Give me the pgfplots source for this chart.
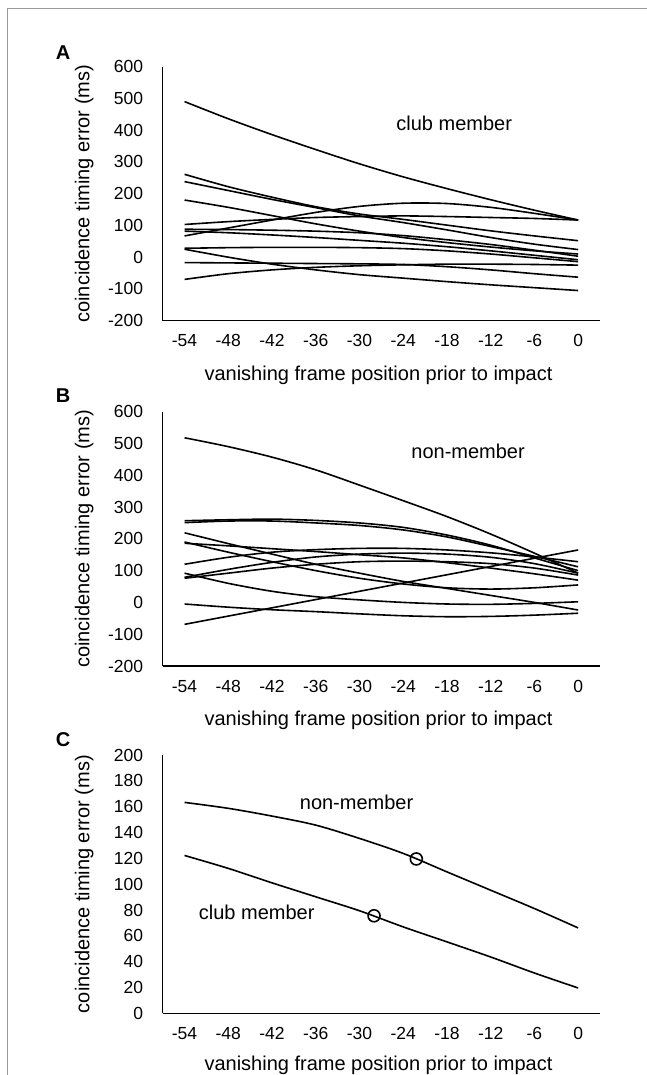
\documentclass[border=0pt]{standalone}
\usepackage{pgfplots}
\usepackage{pgfplotstable}
\pgfplotsset{compat=1.18}
\usepackage{fontspec}
\setmainfont{Liberation Sans}

\pgfplotstableread{
x a b c d e f g gg h i j k
-54 490 67 103 261 238 180 88 82 28 25 -17 -70
-48 436 92 112 222 210 157 87 77 30 0 -18 -52
-42 386 117 119 189 182 131 85 70 31 -22 -19 -40
-36 339 141 125 159 156 105 82 62 31 -40 -20 -32
-30 294 160 128 136 130 82 77 53 30 -55 -21 -27
-24 253 170 130 119 109 62 68 44 27 -66 -23 -24
-18 216 169 128 101 86 46 55 33 20 -77 -30 -22
-12 181 157 125 83 62 32 40 20 10 -87 -40 -22
-6 148 138 122 67 41 20 22 6 -2 -96 -52 -23
0 117 117 117 52 24 10 3 -8 -14 -105 -63 -25
}\tabA

\pgfplotstableread{
x P Qa Qb V Y Wa Wb Ra Rb X U S
-54 518 257 251 120 186 79 76 219 190 92 -5 -69
-48 490 260 256 142 178 104 92 185 158 60 -15 -43
-42 457 262 256 158 169 126 108 152 128 35 -23 -17
-36 417 258 250 166 160 143 120 120 100 18 -29 9
-30 369 250 242 170 150 152 128 92 76 8 -36 35
-24 320 236 228 170 140 155 130 66 58 0 -42 61
-18 270 212 206 165 125 152 128 44 46 -5 -45 87
-12 215 180 176 156 108 142 122 22 42 -6 -44 113
-6 155 140 145 143 90 122 108 0 46 -3 -40 139
0 92 100 112 128 70 92 86 -24 55 2 -34 165
}\tabB

\pgfplotstableread{
x nm cm
-54 163.3 122.2
-48 158.7 112.2
-42 152.7 101.0
-36 145.7 90.2
-30 135.4 79.4
-24 123.8 66.9
-18 109.5 55.3
-12 95.3 43.6
-6 81.1 31.2
0 66.1 19.6
}\tabC

\pgfplotsset{
 curve/.style={black, solid, line width=1.6pt, smooth, no markers},
 panel/.style={
  scale only axis, width=437.3pt, anchor=south west,
  axis x line=bottom, axis y line=left,
  axis line style={-, line width=1.1pt},
  major tick length=0pt,
  xmin=-57, xmax=3,
  xtick={-54,-48,-42,-36,-30,-24,-18,-12,-6,0},
  xticklabels={-54,-48,-42,-36,-30,-24,-18,-12,-6,0},
  tick label style={font=\fontsize{17.5}{20}\selectfont},
  label style={font=\fontsize{20}{24}\selectfont},
  xticklabel style={anchor=north, text height=12.6pt, text depth=0pt, yshift=-10pt},
  yticklabel style={xshift=-16pt},
  xlabel={vanishing frame position prior to impact},
  ylabel={coincidence timing error (ms)},
  xlabel style={at={(axis description cs:0.4935,-0.215)}, anchor=center},
  ylabel style={at={(axis description cs:-0.1674,0.5)}, anchor=base},
 },
 bigy/.style={
  ymin=-200, ymax=600,
  ytick={-200,-100,0,100,200,300,400,500,600},
  yticklabels={-200,-100,0,100,200,300,400,500,600},
 }
}

\begin{document}
\begin{tikzpicture}[x=1pt,y=1pt]
\path[use as bounding box] (0,0) rectangle (647,1075);
\draw[black!40, line width=1pt] (7.5,0) -- (7.5,1066.7) -- (647,1066.7);

\node[font=\bfseries\fontsize{20}{24}\selectfont] at (63,1022) {A};
\node[font=\bfseries\fontsize{20}{24}\selectfont] at (63,679) {B};
\node[font=\bfseries\fontsize{20}{24}\selectfont] at (63,335) {C};

% Panel A
\begin{axis}[panel, bigy, at={(162.7pt,754.3pt)}, height=254pt]
\foreach \c in {a,b,c,d,e,f,g,gg,h,i,j,k}{
  \addplot[curve] table[x=x,y=\c]{\tabA};
}
\node[font=\fontsize{20}{24}\selectfont] at (axis cs:-17,423) {club member};
\end{axis}

% Panel B
\begin{axis}[panel, bigy, at={(162.7pt,409pt)}, height=254.3pt]
\foreach \c in {P,Qa,Qb,V,Y,Wa,Wb,Ra,Rb,X,U,S}{
  \addplot[curve] table[x=x,y=\c]{\tabB};
}
\node[font=\fontsize{20}{24}\selectfont] at (axis cs:-15.1,474) {non-member};
\end{axis}

% Panel C
\begin{axis}[panel, at={(162.7pt,61.7pt)}, height=258.3pt,
  ymin=0, ymax=200,
  ytick={0,20,40,60,80,100,120,140,160,180,200},
  yticklabels={0,20,40,60,80,100,120,140,160,180,200},
  xlabel style={at={(axis description cs:0.4935,-0.2)}, anchor=center}]
\addplot[curve] table[x=x,y=nm]{\tabC};
\addplot[curve] table[x=x,y=cm]{\tabC};
\addplot[only marks, mark=o, mark size=6pt, line width=1.6pt, mark options={draw=black, fill=white}] coordinates {(-22.2,119.5)};
\addplot[only marks, mark=o, mark size=6pt, line width=1.6pt, mark options={draw=black, fill=white}] coordinates {(-28,75.5)};
\node[font=\fontsize{20}{24}\selectfont] at (axis cs:-30.4,163) {non-member};
\node[font=\fontsize{20}{24}\selectfont] at (axis cs:-44.1,77.8) {club member};
\end{axis}
\end{tikzpicture}
\end{document}
